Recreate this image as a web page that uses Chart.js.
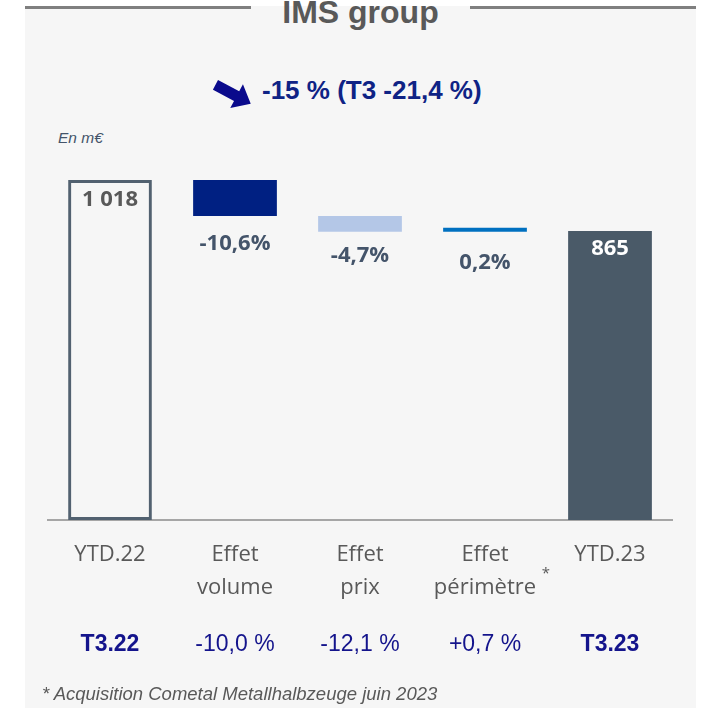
<!DOCTYPE html>
<html>
<head>
<meta charset="utf-8">
<script src="https://cdn.jsdelivr.net/npm/chart.js@4.4.0/dist/chart.umd.min.js"></script>
<style>
  body { margin: 0; width: 703px; height: 708px; background: #fff; position: relative; overflow: hidden; font-family: "Liberation Sans", Arial, sans-serif; }
  #panel { position: absolute; left: 25px; top: 6px; width: 671px; height: 702px; background: #f6f6f6; }
  .rule { position: absolute; top: 6px; height: 3px; background: #7f7f7f; }
  #title { position: absolute; left: 25px; width: 671px; top: -6px; text-align: center; font-weight: bold; font-size: 32px; line-height: 36px; color: #595959; }
  #headline { position: absolute; left: 262px; top: 76px; font-weight: bold; font-size: 26px; line-height: 28px; color: #0f2385; white-space: nowrap; }
  #arrow { position: absolute; left: 213px; top: 77px; }
  #unit { position: absolute; left: 58px; top: 129px; font-style: italic; font-size: 15.5px; color: #44546a; }
  #note { position: absolute; left: 42px; top: 683px; font-style: italic; font-size: 18.5px; color: #595959; white-space: nowrap; }
  #chart { position: absolute; left: 0; top: 0; }
</style>
</head>
<body>
<div id="panel"></div>
<div class="rule" style="left:25px;width:226px"></div>
<div class="rule" style="left:470px;width:226px"></div>
<div id="title">IMS group</div>
<svg id="arrow" width="44" height="32" viewBox="0 0 44 32">
  <polygon points="0,0 0,11 24,11 24,19 40,5.5 24,-8 24,0" fill="#0a0a8c" transform="translate(5,3) rotate(28)"/>
</svg>
<div id="headline">-15 % (T3 -21,4 %)</div>
<div id="unit">En m€</div>
<canvas id="chart" width="703" height="708"></canvas>
<div id="note">* Acquisition Cometal Metallhalbzeuge juin 2023</div>

<script>
// Chart data
const categories = [['YTD.22'], ['Effet', 'volume'], ['Effet', 'prix'], ['Effet', 'périmètre'], ['YTD.23']];
const startValue = 1018;
const effects = [-108, -47, 2];
const endValue = 865;
const barLabels = ['1 018', '-10,6%', '-4,7%', '0,2%', '865'];
const quarterLabels = ['T3.22', '-10,0 %', '-12,1 %', '+0,7 %', 'T3.23'];
const quarterBold = [true, false, false, false, true];

// waterfall ranges
let running = startValue;
const ranges = [[0, startValue]];
effects.forEach(e => {
    ranges.push([running, running + e]);
    running += e;
});
ranges.push([0, endValue]);

const barColors = ['rgba(0,0,0,0)', '#002082', '#b4c7e7', '#0070c0', '#4a5a68'];
const borderColors = ['#526170', '#002082', '#b4c7e7', '#0070c0', '#4a5a68'];
const borderWidths = [3, 0, 0, 0, 0];
const labelGaps = [20, 28, 24, 31, 18];

// value labels, quarter row and footnote mark
const labelPlugin = {
    id: 'labels',
    afterDraw(chart) {
        const ctx = chart.ctx;
        const meta = chart.getDatasetMeta(0);
        ctx.save();
        ctx.textAlign = 'center';
        ctx.textBaseline = 'middle';
        ctx.font = 'bold 22px "Open Sans"';
        meta.data.forEach((bar, i) => {
            const top = Math.min(bar.y, bar.base);
            const bottom = Math.max(bar.y, bar.base);
            if (i === 0) {
                ctx.fillStyle = '#595959';
                ctx.fillText(barLabels[i], bar.x, top + labelGaps[i]);
            } else if (i === meta.data.length - 1) {
                ctx.fillStyle = '#ffffff';
                ctx.fillText(barLabels[i], bar.x, top + labelGaps[i]);
            } else {
                ctx.fillStyle = '#44546a';
                ctx.fillText(barLabels[i], bar.x, bottom + labelGaps[i]);
            }
        });
        const xs = chart.scales.x;
        quarterLabels.forEach((t, i) => {
            ctx.font = (quarterBold[i] ? 'bold ' : '') + '23px "Liberation Sans"';
            ctx.fillStyle = '#14148c';
            ctx.fillText(t, xs.getPixelForValue(i), 645);
        });
        ctx.font = '15px "Open Sans"';
        ctx.fillStyle = '#595959';
        ctx.fillText('*', xs.getPixelForValue(3) + 61, 574);
        ctx.restore();
    }
};

const ctx = document.getElementById('chart').getContext('2d');
const chart = new Chart(ctx, {
    type: 'bar',
    data: {
        labels: categories,
        datasets: [{
            data: ranges,
            backgroundColor: barColors,
            borderColor: borderColors,
            borderWidth: borderWidths,
            borderSkipped: false,
            minBarLength: 4,
            barPercentage: 0.67,
            categoryPercentage: 1
        }]
    },
    options: {
        responsive: false,
        animation: false,
        layout: { padding: { left: 47.5, right: 30.5, top: 152.6, bottom: 0 } },
        plugins: { legend: { display: false }, tooltip: { enabled: false } },
        scales: {
            x: {
                z: 1,
                grid: { display: false, drawTicks: false },
                border: { display: true, color: '#a6a6a6', width: 2 },
                ticks: {
                    color: '#595959',
                    padding: 18,
                    font: { family: 'Open Sans', size: 22, lineHeight: 1.5 }
                },
                afterFit(scale) { scale.height = 188; }
            },
            y: { display: false, min: 0, max: 1100 }
        }
    },
    plugins: [labelPlugin]
});
</script>
</body>
</html>
